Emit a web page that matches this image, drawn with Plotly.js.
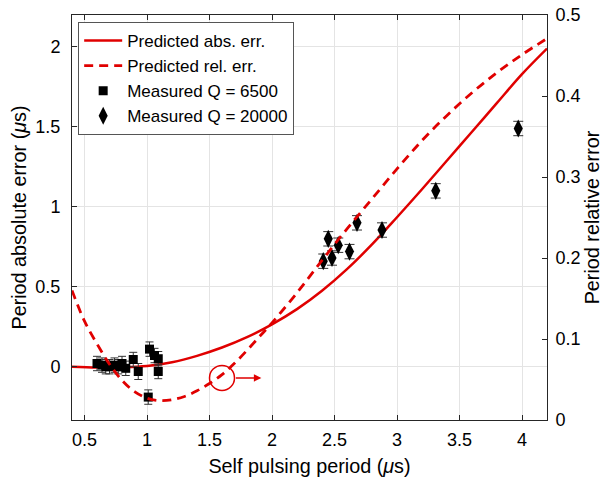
<!DOCTYPE html>
<html>
<head>
<meta charset="utf-8">
<script src="https://cdn.plot.ly/plotly-3.0.1.min.js"></script>
<style>html,body{margin:0;padding:0;background:#fff;}#chart{width:603px;height:477px;}</style>
</head>
<body>
<div id="chart"></div>
<script>
// Predicted absolute error (left axis, µs)
const absX = [0.4, 0.6, 0.8, 1.0, 1.2, 1.4, 1.6, 1.8, 2.0, 2.2, 2.4, 2.6, 2.8, 3.0, 3.2, 3.4, 3.6, 3.8, 4.0, 4.2];
const absY = [0.0, -0.005, -0.004, 0.004, 0.028, 0.068, 0.12, 0.185, 0.265, 0.36, 0.475, 0.61, 0.765, 0.935, 1.11, 1.29, 1.47, 1.65, 1.83, 1.99];
// Predicted relative error (right axis)
const relX = [0.4, 0.5, 0.6, 0.7, 0.8, 0.9, 1.0, 1.1, 1.2, 1.3, 1.4, 1.5, 1.6, 1.7, 1.8, 1.9, 2.0, 2.2, 2.4, 2.6, 2.8, 3.0, 3.2, 3.4, 3.6, 3.8, 4.0, 4.2];
const relY = [0.160, 0.122, 0.094, 0.069, 0.049, 0.035, 0.027, 0.024, 0.025, 0.029, 0.036, 0.045, 0.056, 0.070, 0.086, 0.103, 0.120, 0.157, 0.197, 0.236, 0.273, 0.310, 0.345, 0.376, 0.404, 0.429, 0.451, 0.471];
// Measured Q = 6500
const q6500X = [0.60, 0.64, 0.67, 0.70, 0.74, 0.77, 0.80, 0.83, 0.89, 0.93, 1.01, 1.02, 1.06, 1.09, 1.09];
const q6500Y = [0.02, 0.01, 0.00, 0.00, 0.01, 0.00, 0.02, -0.01, 0.045, -0.03, -0.19, 0.11, 0.07, 0.05, -0.03];
const q6500Err = [0.045, 0.045, 0.045, 0.045, 0.045, 0.045, 0.045, 0.045, 0.045, 0.05, 0.045, 0.045, 0.045, 0.045, 0.045];
// Measured Q = 20000
const q20000X = [2.41, 2.45, 2.48, 2.53, 2.62, 2.68, 2.88, 3.31, 3.97];
const q20000Y = [0.66, 0.80, 0.68, 0.76, 0.72, 0.90, 0.855, 1.10, 1.49];
const q20000Err = [0.045, 0.045, 0.045, 0.045, 0.045, 0.045, 0.045, 0.045, 0.045];
// Tick values
const xTicks = [0.5, 1, 1.5, 2, 2.5, 3, 3.5, 4];
const yTicks = [0, 0.5, 1, 1.5, 2];
const y2Ticks = [0, 0.1, 0.2, 0.3, 0.4, 0.5];
// Annotation marker (circle + arrow towards right axis)
const circleAt = {x: 1.6, y: 0.052};
const arrowHeadAt = {x: 1.915, y: 0.052};

const RED = '#e00000';
const AX = '#262626';
const FONT = 'Liberation Sans, Arial, Helvetica, sans-serif';

const traces = [
  {x: absX, y: absY, type: 'scatter', mode: 'lines', name: 'Predicted abs. err.',
   line: {color: RED, width: 2.5, shape: 'spline'}, yaxis: 'y', legendrank: 1},
  {x: q6500X, y: q6500Y, type: 'scatter', mode: 'markers', name: 'Measured Q = 6500',
   marker: {symbol: 'square', size: 9, color: '#000'},
   error_y: {type: 'data', array: q6500Err, visible: true, color: '#333', thickness: 1, width: 4},
   yaxis: 'y', legendrank: 3},
  {x: q20000X, y: q20000Y, type: 'scatter', mode: 'markers', name: 'Measured Q = 20000',
   marker: {symbol: 'diamond-tall', size: 13, color: '#000'},
   error_y: {type: 'data', array: q20000Err, visible: true, color: '#333', thickness: 1, width: 5},
   yaxis: 'y', legendrank: 4},
  {x: relX, y: relY, type: 'scatter', mode: 'lines', name: 'Predicted rel. err.',
   line: {color: RED, width: 2.8, dash: '9px,6px', shape: 'spline'}, yaxis: 'y2', legendrank: 2}
];

const layout = {
  width: 603, height: 477,
  margin: {l: 72, r: 56, t: 15, b: 57},
  paper_bgcolor: '#fff', plot_bgcolor: '#fff',
  font: {family: FONT, size: 18, color: '#000'},
  showlegend: true,
  legend: {x: 0.013, y: 0.983, xanchor: 'left', yanchor: 'top',
    bgcolor: '#fff', bordercolor: '#555', borderwidth: 1,
    font: {family: FONT, size: 17, color: '#000'}, itemwidth: 38, tracegroupgap: 0},
  xaxis: {range: [0.4, 4.2], tickvals: xTicks, ticks: 'inside', ticklen: 5, tickcolor: AX,
    showline: true, linecolor: AX, linewidth: 1, mirror: 'ticks',
    showgrid: true, gridcolor: '#e4e4e4', zeroline: false,
    tickfont: {size: 18}, ticklabelstandoff: 3,
    title: {text: 'Self pulsing period (<i>μ</i>s)', font: {size: 19.8}, standoff: 10}},
  yaxis: {range: [-1/3, 2.2], tickvals: yTicks, ticks: 'inside', ticklen: 5, tickcolor: AX,
    showline: true, linecolor: AX, linewidth: 1,
    showgrid: true, gridcolor: '#e4e4e4', zeroline: false,
    tickfont: {size: 18}, ticklabelstandoff: 7,
    title: {text: 'Period absolute error (<i>μ</i>s)', font: {size: 19.8}, standoff: 3}},
  yaxis2: {range: [0, 0.5], tickvals: y2Ticks, overlaying: 'y', side: 'right',
    ticks: 'inside', ticklen: 5, tickcolor: AX,
    showline: true, linecolor: AX, linewidth: 1,
    showgrid: false, zeroline: false,
    tickfont: {size: 18}, ticklabelstandoff: 4,
    title: {text: 'Period relative error', font: {size: 19.8}, standoff: 13}},
  shapes: [
    {type: 'circle', xref: 'x', yref: 'y2', xsizemode: 'pixel', ysizemode: 'pixel',
     xanchor: circleAt.x, yanchor: circleAt.y, x0: -12.5, x1: 12.5, y0: -12.5, y1: 12.5,
     line: {color: RED, width: 1.5}}
  ],
  annotations: [
    {x: arrowHeadAt.x, y: arrowHeadAt.y, xref: 'x', yref: 'y2', text: '', showarrow: true,
     ax: -27, ay: 0, arrowhead: 2, arrowsize: 1, arrowwidth: 1.5, arrowcolor: RED, standoff: 0}
  ]
};

Plotly.newPlot('chart', traces, layout, {displayModeBar: false, staticPlot: true});
</script>
</body>
</html>
